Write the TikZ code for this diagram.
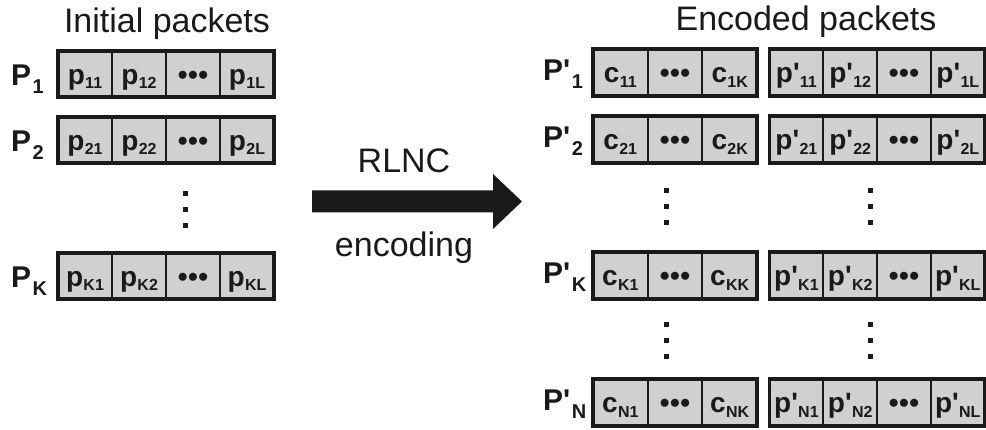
\documentclass[tikz,border=0pt]{standalone}
\usepackage{fontspec}
\setmainfont{Liberation Sans}
\usetikzlibrary{calc}
\definecolor{ink}{HTML}{1A1A1A}
\definecolor{cellgray}{HTML}{D0D0D0}
\newcommand\cellfont{\bfseries\fontsize{28}{28}\selectfont}
\newcommand\labfont{\bfseries\fontsize{30}{30}\selectfont}
\newcommand\titlefont{\fontsize{34}{34}\selectfont}
% small index lowered after a cell symbol
\newcommand\ix[1]{\kern0.3pt\raisebox{-4.5pt}{\fontsize{16}{16}\selectfont #1}}
% index of a row label
\newcommand\lx[1]{\kern1.5pt\raisebox{-8pt}{\fontsize{20}{20}\selectfont #1}}
\newcommand\tk{\textquotesingle}
\newcommand\dotsrow{\textbullet\kern0.5pt\textbullet\kern0.5pt\textbullet}
\tikzset{
  cell/.style={draw=ink, line width=1.8pt, fill=cellgray, minimum height=46pt,
    inner sep=0pt, outer sep=0pt, text height=25pt, text depth=4pt,
    font=\cellfont, text=ink},
  frame/.style={draw=ink, line width=3.2pt},
  lab/.style={font=\labfont, text=ink, inner sep=0pt, anchor=base west},
  title/.style={font=\titlefont, text=ink, inner sep=0pt, anchor=base},
  vdot/.style={fill=ink}
}
% original packet: name, top edge, row index
\newcommand\origrow[3]{%
  \node[cell, minimum width=54pt] (#1a) at (85,#2+23) {p\ix{#31}};
  \node[cell, minimum width=54pt] (#1b) at (139,#2+23) {p\ix{#32}};
  \node[cell, minimum width=54pt] (#1c) at (193,#2+23) {\dotsrow};
  \node[cell, minimum width=54pt] (#1d) at (247,#2+23) {p\ix{#3L}};
  \draw[frame] (#1a.north west) rectangle (#1d.south east);
  \node[lab] (#1lab) at (11,#2+35) {P\lx{#3}};
}
% coded packet: name, top edge, row index
\newcommand\coderow[3]{%
  \node[cell, minimum width=54.67pt, minimum height=47pt] (#1c1) at (620.3,#2+23.5) {c\ix{#31}};
  \node[cell, minimum width=54.67pt, minimum height=47pt] (#1c2) at (675,#2+23.5) {\dotsrow};
  \node[cell, minimum width=54.67pt, minimum height=47pt] (#1c3) at (729.7,#2+23.5) {c\ix{#3K}};
  \draw[frame] (#1c1.north west) rectangle (#1c3.south east);
  \node[cell, minimum width=53.8pt, minimum height=47pt] (#1p1) at (796.4,#2+23.5) {p\tk\ix{#31}};
  \node[cell, minimum width=53.8pt, minimum height=47pt] (#1p2) at (850.2,#2+23.5) {p\tk\ix{#32}};
  \node[cell, minimum width=53.8pt, minimum height=47pt] (#1p3) at (904,#2+23.5) {\dotsrow};
  \node[cell, minimum width=53.8pt, minimum height=47pt] (#1p4) at (957.8,#2+23.5) {p\tk\ix{#3L}};
  \draw[frame] (#1p1.north west) rectangle (#1p4.south east);
  \node[lab] (#1lab) at (543,#2+32) {P\tk\lx{#3}};
}
\begin{document}
\begin{tikzpicture}[x=1pt, y=-1pt]
  \useasboundingbox (0,0) rectangle (986,430);

  % headings
  \node[title] (inittitle) at (167,33) {Initial packets};
  \node[title] (enctitle) at (806,31) {Encoded packets};

  % initial packets
  \origrow{A}{51}{1}
  \origrow{B}{117}{2}
  \origrow{C}{253}{K}

  % encoded packets
  \coderow{E}{49}{1}
  \coderow{F}{116}{2}
  \coderow{G}{252}{K}
  \coderow{H}{379}{N}

  % vertical ellipses
  \foreach \x/\y in {185/210, 666/207, 870/207, 666/341, 870/341}
    \foreach \d in {-16,0,16}
      \fill[vdot] (\x-2.5,\y+\d-2.5) rectangle (\x+2.5,\y+\d+2.5);

  % encoding arrow
  \coordinate (tail) at (312,201.5);
  \coordinate (tip) at (522,201.5);
  \fill[ink] ($(tail)+(0,-11)$) -- ($(tip)+(-29,-11)$) -- ($(tip)+(-29,-27.5)$)
    -- (tip) -- ($(tip)+(-29,27.5)$) -- ($(tip)+(-29,11)$) -- ($(tail)+(0,11)$) -- cycle;
  \node[title] (rlnc) at (404,173) {RLNC};
  \node[title] (encword) at (404,257) {encoding};
\end{tikzpicture}
\end{document}
